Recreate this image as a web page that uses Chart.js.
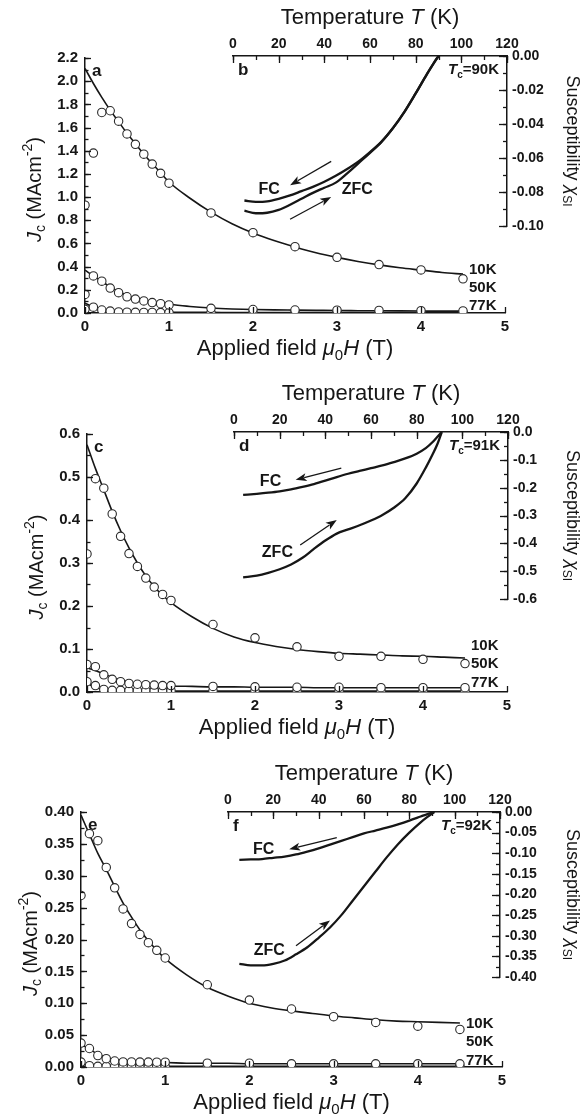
<!DOCTYPE html>
<html lang="en">
<head>
<meta charset="UTF-8">
<title>Jc versus applied field, with susceptibility insets</title>
<script src="https://cdn.jsdelivr.net/npm/chart.js"></script>
<style>
    body { margin: 0; background: #fff; }
    .panel { position: absolute; left: 0; width: 586px; }
    .panel canvas { position: absolute; left: 0; top: 0; }
</style>
</head>
<body>
<div class="panel" style="top:0;height:372px">
    <canvas id="mainA" width="586" height="372"></canvas>
    <canvas id="insetB" width="586" height="372"></canvas>
</div>
<div class="panel" style="top:372px;height:372px">
    <canvas id="mainC" width="586" height="372"></canvas>
    <canvas id="insetD" width="586" height="372"></canvas>
</div>
<div class="panel" style="top:744px;height:373px">
    <canvas id="mainE" width="586" height="373"></canvas>
    <canvas id="insetF" width="586" height="373"></canvas>
</div>
<script>
// ---- data ----
// applied field (T) of the measured points and of the fitted curves
const fieldPts = [0, 0.1, 0.2, 0.3, 0.4, 0.5, 0.6, 0.7, 0.8, 0.9, 1.0, 1.5, 2.0, 2.5, 3.0, 3.5, 4.0, 4.5];
const fieldFit = [0, 0.1, 0.2, 0.3, 0.4, 0.5, 0.6, 0.7, 0.8, 0.9, 1.0, 1.25, 1.5, 1.75, 2.0, 2.25, 2.5, 2.75, 3.0, 3.25, 3.5, 3.75, 4.0, 4.25, 4.5];

// panel a (MA/cm2)
const jcA10 = [0.93, 1.38, 1.73, 1.745, 1.655, 1.545, 1.455, 1.37, 1.285, 1.205, 1.12, 0.863, 0.693, 0.572, 0.48, 0.418, 0.372, 0.295];
const jcA50 = [0.16, 0.32, 0.275, 0.215, 0.175, 0.14, 0.12, 0.104, 0.09, 0.08, 0.07, 0.04, 0.03, 0.026, 0.024, 0.022, 0.02, 0.018];
const jcA77 = [0.032, 0.05, 0.026, 0.017, 0.009, 0.007, 0.006, 0.005, 0.005, 0.004, 0.004, 0.003, 0.003, 0.003, 0.003, 0.003, 0.003, 0.003];
const fitA10 = [2.11, 1.98, 1.86, 1.75, 1.65, 1.55, 1.46, 1.37, 1.29, 1.21, 1.13, 0.99, 0.87, 0.77, 0.69, 0.625, 0.57, 0.52, 0.48, 0.445, 0.415, 0.39, 0.37, 0.35, 0.335];
const fitA50 = [0.37, 0.32, 0.272, 0.225, 0.185, 0.152, 0.128, 0.11, 0.096, 0.085, 0.076, 0.056, 0.043, 0.035, 0.03, 0.027, 0.025, 0.023, 0.021, 0.02, 0.019, 0.018, 0.017, 0.016, 0.016];
const fitA77 = [0.085, 0.05, 0.03, 0.02, 0.014, 0.011, 0.009, 0.008, 0.007, 0.006, 0.006, 0.005, 0.005, 0.004, 0.004, 0.004, 0.004, 0.003, 0.003, 0.003, 0.003, 0.003, 0.003, 0.003, 0.003];

// panel c
const jcC10 = [0.321, 0.496, 0.474, 0.414, 0.362, 0.322, 0.292, 0.265, 0.244, 0.227, 0.213, 0.157, 0.126, 0.105, 0.083, 0.083, 0.076, 0.066];
const jcC50 = [0.064, 0.059, 0.04, 0.0295, 0.024, 0.02, 0.018, 0.017, 0.016, 0.015, 0.015, 0.013, 0.012, 0.011, 0.011, 0.01, 0.01, 0.01];
const jcC77 = [0.024, 0.015, 0.006, 0.004, 0.004, 0.003, 0.003, 0.003, 0.003, 0.003, 0.003, 0.003, 0.003, 0.003, 0.003, 0.003, 0.003, 0.003];
const fitC10 = [0.575, 0.52, 0.47, 0.42, 0.375, 0.335, 0.3, 0.27, 0.245, 0.225, 0.208, 0.175, 0.148, 0.128, 0.115, 0.106, 0.099, 0.094, 0.09, 0.088, 0.086, 0.084, 0.083, 0.081, 0.079];
const fitC50 = [0.056, 0.05, 0.042, 0.034, 0.028, 0.023, 0.02, 0.018, 0.016, 0.015, 0.014, 0.013, 0.012, 0.012, 0.011, 0.011, 0.011, 0.01, 0.01, 0.01, 0.01, 0.01, 0.01, 0.01, 0.01];
const fitC77 = [0.02, 0.011, 0.006, 0.004, 0.003, 0.003, 0.003, 0.002, 0.002, 0.002, 0.002, 0.002, 0.002, 0.002, 0.002, 0.002, 0.002, 0.002, 0.002, 0.002, 0.002, 0.002, 0.002, 0.002, 0.002];

// panel e
const jcE10 = [0.269, 0.366, 0.355, 0.313, 0.281, 0.248, 0.225, 0.208, 0.195, 0.183, 0.171, 0.129, 0.105, 0.091, 0.079, 0.07, 0.064, 0.059];
const jcE50 = [0.0375, 0.029, 0.018, 0.013, 0.0094, 0.008, 0.008, 0.0078, 0.0078, 0.0075, 0.0075, 0.006, 0.006, 0.005, 0.005, 0.005, 0.005, 0.005];
const jcE77 = [0.0078, 0.002, 0.001, 0.001, 0.001, 0.001, 0.001, 0.001, 0.001, 0.001, 0.001, 0.001, 0.001, 0.001, 0.001, 0.001, 0.001, 0.001];
const fitE10 = [0.395, 0.365, 0.335, 0.31, 0.283, 0.257, 0.235, 0.215, 0.198, 0.183, 0.17, 0.145, 0.125, 0.111, 0.1, 0.093, 0.088, 0.084, 0.08, 0.077, 0.074, 0.072, 0.071, 0.07, 0.069];
const fitE50 = [0.036, 0.028, 0.02, 0.015, 0.012, 0.01, 0.009, 0.008, 0.008, 0.007, 0.007, 0.006, 0.006, 0.006, 0.005, 0.005, 0.005, 0.005, 0.005, 0.005, 0.005, 0.005, 0.005, 0.005, 0.005];
const fitE77 = [0.005, 0.002, 0.0012, 0.001, 0.001, 0.001, 0.001, 0.001, 0.001, 0.001, 0.001, 0.001, 0.001, 0.001, 0.001, 0.001, 0.001, 0.001, 0.001, 0.001, 0.001, 0.001, 0.001, 0.001, 0.001];

// curve tags and their Jc level
const tagNames = ['10K', '50K', '77K'];
const tagYA = [0.37, 0.215, 0.06];
const tagYC = [0.107, 0.065, 0.021];
const tagYE = [0.0675, 0.039, 0.0094];

// insets: temperature (K) and susceptibility (SI)
const tempB = [5, 10, 15, 20, 25, 30, 35, 40, 45, 50, 55, 60, 65, 70, 75, 80, 85, 88, 90];
const fcB = [-0.085, -0.0858, -0.0855, -0.084, -0.082, -0.0795, -0.077, -0.074, -0.0705, -0.0665, -0.062, -0.0565, -0.0505, -0.0425, -0.033, -0.022, -0.0105, -0.004, 0];
const zfcB = [-0.091, -0.0925, -0.0922, -0.0905, -0.0875, -0.084, -0.0805, -0.0775, -0.0745, -0.069, -0.063, -0.057, -0.0505, -0.0425, -0.033, -0.022, -0.0105, -0.004, 0];

const tempD = [4, 10, 15, 20, 25, 30, 35, 40, 45, 50, 55, 60, 65, 70, 75, 80, 84, 87, 89, 91];
const fcD = [-0.226, -0.222, -0.218, -0.213, -0.206, -0.197, -0.187, -0.175, -0.162, -0.15, -0.14, -0.13, -0.12, -0.108, -0.095, -0.078, -0.058, -0.036, -0.018, 0];
const zfcD = [-0.522, -0.516, -0.506, -0.493, -0.476, -0.452, -0.42, -0.39, -0.365, -0.35, -0.335, -0.318, -0.298, -0.272, -0.238, -0.185, -0.128, -0.08, -0.045, 0];

const tempF = [5, 10, 15, 20, 25, 30, 35, 40, 45, 50, 55, 60, 65, 70, 75, 80, 85, 88, 91];
const fcF = [-0.116, -0.115, -0.114, -0.111, -0.108, -0.103, -0.096, -0.088, -0.079, -0.07, -0.061, -0.052, -0.045, -0.038, -0.03, -0.021, -0.011, -0.005, 0];
const zfcF = [-0.368, -0.372, -0.372, -0.368, -0.36, -0.345, -0.328, -0.305, -0.28, -0.25, -0.215, -0.18, -0.145, -0.11, -0.078, -0.05, -0.025, -0.012, 0];

// arrows [T1, chi1, T2, chi2] (head at the second point) and FC / ZFC label spots
const arrowsB = [[43, -0.062, 25, -0.076], [25, -0.096, 43, -0.083]];
const arrowsD = [[47, -0.13, 27, -0.172], [29, -0.406, 45, -0.316]];
const arrowsF = [[48, -0.062, 27, -0.09], [30, -0.324, 45, -0.263]];
const fcLabelB = [15.8, -0.0784], zfcLabelB = [54.4, -0.0784];
const fcLabelD = [16, -0.178], zfcLabelD = [19, -0.433];
const fcLabelF = [15.7, -0.09], zfcLabelF = [18.2, -0.337];

// ---- drawing helpers ----
const W = 586;
const FONT = "'Liberation Sans', Arial, Helvetica, sans-serif";
const INK = '#161616';

// text with italic / sub / superscript pieces
function drawRich(ctx, parts, x, y, size, weight, rot, align) {
    ctx.save();
    ctx.translate(x, y);
    ctx.rotate(rot || 0);
    ctx.fillStyle = INK;
    ctx.textBaseline = 'middle';
    ctx.textAlign = 'left';
    const fontOf = p => (p.i ? 'italic ' : '') + weight + ' ' +
        ((p.sub || p.sup) ? Math.round(size * 0.68) : size) + 'px ' + FONT;
    const widths = parts.map(p => { ctx.font = fontOf(p); return ctx.measureText(p.t).width; });
    const total = widths.reduce((s, w) => s + w, 0);
    let cx = align === 'left' ? 0 : align === 'right' ? -total : -total / 2;
    parts.forEach((p, k) => {
        ctx.font = fontOf(p);
        const dy = p.sub ? size * 0.32 : p.sup ? -size * 0.36 : 0;
        ctx.fillText(p.t, cx, dy);
        cx += widths[k];
    });
    ctx.restore();
}

function drawArrow(ctx, x1, y1, x2, y2) {
    const ang = Math.atan2(y2 - y1, x2 - x1);
    const hl = 11, hw = 4;
    ctx.save();
    ctx.strokeStyle = INK;
    ctx.fillStyle = INK;
    ctx.lineWidth = 1.3;
    ctx.beginPath();
    ctx.moveTo(x1, y1);
    ctx.lineTo(x2 - hl * 0.8 * Math.cos(ang), y2 - hl * 0.8 * Math.sin(ang));
    ctx.stroke();
    ctx.translate(x2, y2);
    ctx.rotate(ang);
    ctx.beginPath();
    ctx.moveTo(0, 0);
    ctx.lineTo(-hl, -hw);
    ctx.lineTo(-hl * 0.75, 0);
    ctx.lineTo(-hl, hw);
    ctx.closePath();
    ctx.fill();
    ctx.restore();
}

// tick marks pointing into the plot, placed by the scales
const inTicks = {
    id: 'inTicks',
    afterDatasetsDraw(chart, args, opts) {
        const ctx = chart.ctx, a = chart.chartArea;
        ctx.save();
        ctx.strokeStyle = INK;
        ctx.lineWidth = 1.3;
        (opts.list || []).forEach(t => {
            const s = chart.scales[t.axis];
            const n = Math.round((s.max - s.min) / t.step);
            for (let i = 0; i <= n; i++) {
                const p = Math.round(s.getPixelForValue(s.min + i * t.step)) + 0.5;
                ctx.beginPath();
                if (s.position === 'bottom') { ctx.moveTo(p, a.bottom); ctx.lineTo(p, a.bottom - t.len); }
                else if (s.position === 'top') { ctx.moveTo(p, a.top); ctx.lineTo(p, a.top + t.len); }
                else if (s.position === 'left') { ctx.moveTo(a.left, p); ctx.lineTo(a.left + t.len, p); }
                else { ctx.moveTo(a.right, p); ctx.lineTo(a.right - t.len, p); }
                ctx.stroke();
            }
        });
        ctx.restore();
    }
};

// titles, panel letters, tags and arrows
const notes = {
    id: 'notes',
    afterDraw(chart, args, opts) {
        if (opts.draw) opts.draw(chart.ctx, chart.chartArea, chart.scales.x, chart.scales.y);
    }
};
Chart.register(inTicks, notes);

const xy = (xs, ys) => xs.map((x, i) => ({ x: x, y: ys[i] }));
const axisBorder = { display: true, color: INK, width: 1.5 };
const noGrid = { display: false, drawTicks: false };

function buildMain(id, area, s) {
    const canvas = document.getElementById(id);
    const H = canvas.height;
    const pts = { showLine: false, pointRadius: 4.2, pointBackgroundColor: '#fff', pointBorderColor: '#2a2a2a', pointBorderWidth: 1.1 };
    const line = { showLine: true, pointRadius: 0, borderColor: INK, borderWidth: 1.6, cubicInterpolationMode: 'monotone' };
    new Chart(canvas, {
        type: 'scatter',
        data: {
            datasets: [
                Object.assign({ label: '10K', data: xy(fieldPts, s.jc10) }, pts),
                Object.assign({ label: '50K', data: xy(fieldPts, s.jc50) }, pts),
                Object.assign({ label: '77K', data: xy(fieldPts, s.jc77) }, pts),
                Object.assign({ label: '10K fit', data: xy(fieldFit, s.fit10) }, line),
                Object.assign({ label: '50K fit', data: xy(fieldFit, s.fit50) }, line),
                Object.assign({ label: '77K fit', data: xy(fieldFit, s.fit77) }, line)
            ]
        },
        options: {
            responsive: false,
            animation: false,
            layout: { padding: { left: 0, top: area.t, right: W - area.r, bottom: H - area.b - 30 } },
            plugins: {
                legend: { display: false },
                tooltip: { enabled: false },
                inTicks: { list: [
                    { axis: 'y', step: s.yStep, len: 6 },
                    { axis: 'y', step: s.yStep / 2, len: 3.5 },
                    { axis: 'x', step: 1, len: 6 }
                ] },
                notes: { draw: (ctx, a, sx, sy) => {
                    drawRich(ctx, [{ t: s.letter }], a.left + 7, a.top + 13, 17, 'bold', 0, 'left');
                    drawRich(ctx, [{ t: 'Applied field ' }, { t: 'μ', i: 1 }, { t: '0', sub: 1 }, { t: 'H', i: 1 }, { t: ' (T)' }],
                        (a.left + a.right) / 2, a.bottom + 36, 22, 'normal', 0, 'center');
                    drawRich(ctx, [{ t: 'J', i: 1 }, { t: 'c', sub: 1 }, { t: ' (MAcm' }, { t: '-2', sup: 1 }, { t: ')' }],
                        a.left - 50, (a.top + a.bottom) / 2 + 4, 20, 'normal', -Math.PI / 2, 'center');
                    tagNames.forEach((name, k) => {
                        drawRich(ctx, [{ t: name }], a.right - 36, sy.getPixelForValue(s.tagY[k]), 15, 'bold', 0, 'left');
                    });
                } }
            },
            scales: {
                x: {
                    type: 'linear', position: 'bottom', min: 0, max: 5,
                    afterFit: sc => { sc.height = 30; },
                    border: axisBorder, grid: noGrid,
                    ticks: { stepSize: 1, padding: 5, color: INK, maxRotation: 0, font: { family: FONT, size: 15, weight: 'bold' } }
                },
                y: {
                    type: 'linear', position: 'left', min: 0, max: s.yMax,
                    afterFit: sc => { sc.width = area.l; },
                    border: axisBorder, grid: noGrid,
                    ticks: { stepSize: s.yStep, padding: 7, color: INK, font: { family: FONT, size: 15, weight: 'bold' },
                        callback: v => v.toFixed(s.dec) }
                }
            }
        }
    });
}

function buildInset(id, area, s) {
    const canvas = document.getElementById(id);
    const H = canvas.height;
    const line = { showLine: true, pointRadius: 0, borderColor: INK, borderWidth: 2.3, cubicInterpolationMode: 'monotone' };
    new Chart(canvas, {
        type: 'scatter',
        data: {
            datasets: [
                Object.assign({ label: 'FC', data: xy(s.temp, s.fc) }, line),
                Object.assign({ label: 'ZFC', data: xy(s.temp, s.zfc) }, line)
            ]
        },
        options: {
            responsive: false,
            animation: false,
            layout: { padding: { left: area.l, top: 0, right: 0, bottom: H - area.b } },
            plugins: {
                legend: { display: false },
                tooltip: { enabled: false },
                inTicks: { list: [
                    { axis: 'x', step: 20, len: 7 },
                    { axis: 'x', step: 10, len: 4 },
                    { axis: 'y', step: s.yStep, len: 8 },
                    { axis: 'y', step: s.yStep / 2, len: 4 }
                ] },
                notes: { draw: (ctx, a, sx, sy) => {
                    drawRich(ctx, [{ t: 'Temperature ' }, { t: 'T', i: 1 }, { t: ' (K)' }],
                        (a.left + a.right) / 2, a.top - 38, 22, 'normal', 0, 'center');
                    drawRich(ctx, [{ t: 'Susceptibility ' }, { t: 'χ', i: 1 }, { t: 'SI', sub: 1 }],
                        W - 14, (a.top + a.bottom) / 2, 18, 'normal', Math.PI / 2, 'center');
                    drawRich(ctx, [{ t: s.letter }], a.left + 5, a.top + 14, 17, 'bold', 0, 'left');
                    drawRich(ctx, [{ t: 'T', i: 1 }, { t: 'c', sub: 1 }, { t: '=' + s.tc + 'K' }], a.right - 8, a.top + 14, 15, 'bold', 0, 'right');
                    drawRich(ctx, [{ t: 'FC' }], sx.getPixelForValue(s.fcLabel[0]), sy.getPixelForValue(s.fcLabel[1]), 16, 'bold', 0, 'center');
                    drawRich(ctx, [{ t: 'ZFC' }], sx.getPixelForValue(s.zfcLabel[0]), sy.getPixelForValue(s.zfcLabel[1]), 16, 'bold', 0, 'center');
                    s.arrows.forEach(r => drawArrow(ctx,
                        sx.getPixelForValue(r[0]), sy.getPixelForValue(r[1]),
                        sx.getPixelForValue(r[2]), sy.getPixelForValue(r[3])));
                } }
            },
            scales: {
                x: {
                    type: 'linear', position: 'top', min: 0, max: 120,
                    afterFit: sc => { sc.height = area.t; },
                    border: axisBorder, grid: noGrid,
                    ticks: { stepSize: 20, padding: 3, color: INK, maxRotation: 0, font: { family: FONT, size: 14, weight: 'bold' } }
                },
                y: {
                    type: 'linear', position: 'right', min: s.yMin, max: 0,
                    afterFit: sc => { sc.width = W - area.r; },
                    border: axisBorder, grid: noGrid,
                    ticks: { stepSize: s.yStep, padding: 5, color: INK, font: { family: FONT, size: 14, weight: 'bold' },
                        callback: v => v.toFixed(s.dec) }
                }
            }
        }
    });
}

buildMain('mainA', { l: 85, r: 505, t: 58, b: 313 },
    { jc10: jcA10, jc50: jcA50, jc77: jcA77, fit10: fitA10, fit50: fitA50, fit77: fitA77,
      yMax: 2.2, yStep: 0.2, dec: 1, letter: 'a', tagY: tagYA });
buildInset('insetB', { l: 233, r: 507, t: 56, b: 226 },
    { temp: tempB, fc: fcB, zfc: zfcB, yMin: -0.1, yStep: 0.02, dec: 2, letter: 'b', tc: 90,
      arrows: arrowsB, fcLabel: fcLabelB, zfcLabel: zfcLabelB });

buildMain('mainC', { l: 87, r: 507, t: 62, b: 320 },
    { jc10: jcC10, jc50: jcC50, jc77: jcC77, fit10: fitC10, fit50: fitC50, fit77: fitC77,
      yMax: 0.6, yStep: 0.1, dec: 1, letter: 'c', tagY: tagYC });
buildInset('insetD', { l: 234, r: 508, t: 60, b: 227 },
    { temp: tempD, fc: fcD, zfc: zfcD, yMin: -0.6, yStep: 0.1, dec: 1, letter: 'd', tc: 91,
      arrows: arrowsD, fcLabel: fcLabelD, zfcLabel: zfcLabelD });

buildMain('mainE', { l: 81, r: 502, t: 68, b: 323 },
    { jc10: jcE10, jc50: jcE50, jc77: jcE77, fit10: fitE10, fit50: fitE50, fit77: fitE77,
      yMax: 0.4, yStep: 0.05, dec: 2, letter: 'e', tagY: tagYE });
buildInset('insetF', { l: 228, r: 500, t: 68, b: 233 },
    { temp: tempF, fc: fcF, zfc: zfcF, yMin: -0.4, yStep: 0.05, dec: 2, letter: 'f', tc: 92,
      arrows: arrowsF, fcLabel: fcLabelF, zfcLabel: zfcLabelF });
</script>
</body>
</html>
